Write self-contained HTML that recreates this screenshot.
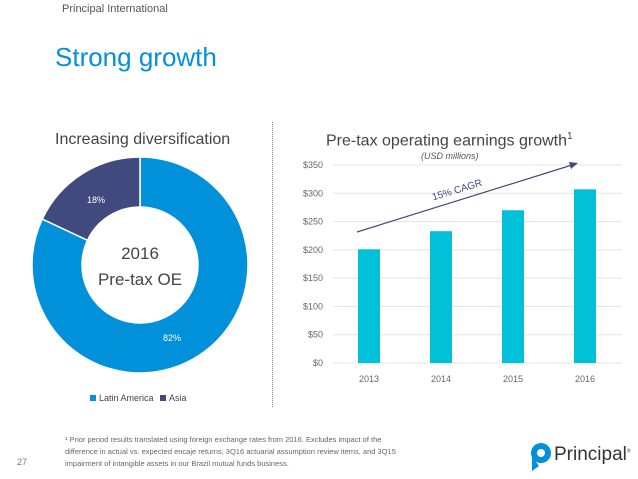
<!DOCTYPE html>
<html><head><meta charset="utf-8"><style>
body{margin:0;width:638px;height:479px;background:#fff;font-family:"Liberation Sans",sans-serif;overflow:hidden;position:relative}
.a{position:absolute;white-space:nowrap}
</style></head><body>
<div class="a" style="left:62px;top:3px;font-size:11px;color:#555">Principal International</div>
<div class="a" style="left:55px;top:42px;font-size:26px;color:#0091da">Strong growth</div>
<div class="a" style="left:55px;top:131px;font-size:16px;color:#444">Increasing diversification</div>
<div class="a" style="left:272px;top:122px;height:285px;border-left:1px dotted #888"></div>
<svg class="a" style="left:0;top:0" width="300" height="420" id="donut"></svg>
<div class="a" style="left:326px;top:131px;font-size:16px;color:#444">Pre-tax operating earnings growth<sup style="font-size:10px">1</sup></div>
<div class="a" style="left:421px;top:151px;font-size:9px;font-style:italic;color:#555">(USD millions)</div>
<svg class="a" style="left:0;top:0" width="638" height="400" id="bars"></svg>
<div class="a" style="left:17px;top:457px;font-size:9px;color:#777">27</div>
<div class="a" style="left:65px;top:434px;font-size:7.5px;line-height:12px;color:#666">¹ Prior period results translated using foreign exchange rates from 2016. Excludes impact of the<br>difference in actual vs. expected encaje returns, 3Q16 actuarial assumption review items, and 3Q15<br>impairment of intangible assets in our Brazil mutual funds business.</div>
<svg class="a" style="left:530px;top:442px" width="22" height="30"><circle cx="11" cy="11" r="10" fill="#0091da"/><path d="M2 14 L2 29 L9 24Z" fill="#0091da"/><circle cx="11" cy="11" r="4" fill="#fff"/></svg>
<div class="a" style="left:554px;top:444px;font-size:19px;color:#333">Principal<sup style="font-size:5px">®</sup></div>
<script>
const segLabels=["Latin America","Asia"];
const segValues=[82,18];
const segColors=["#0091da","#404a7e"];
const years=["2013","2014","2015","2016"];
const earnings=[201,233,270,307];
const ticks=[0,50,100,150,200,250,300,350];
const NS="http://www.w3.org/2000/svg";
function mk(p,t,a){const e=document.createElementNS(NS,t);for(const k in a)e.setAttribute(k,a[k]);p.appendChild(e);return e;}
const d=document.getElementById('donut');
const cx=140,cy=265,R=108,r=58;
const tot=segValues.reduce((a,b)=>a+b,0);
let ang=0;
segValues.forEach((v,i)=>{
 const a0=ang/tot*2*Math.PI,a1=(ang+v)/tot*2*Math.PI;ang+=v;
 const P=(rad,a)=>[cx+rad*Math.sin(a),cy-rad*Math.cos(a)];
 const [x0,y0]=P(R,a0),[x1,y1]=P(R,a1),[x2,y2]=P(r,a1),[x3,y3]=P(r,a0);
 const lg=(a1-a0)>Math.PI?1:0;
 const p=mk(d,'path',{d:`M${x0} ${y0}A${R} ${R} 0 ${lg} 1 ${x1} ${y1}L${x2} ${y2}A${r} ${r} 0 ${lg} 0 ${x3} ${y3}Z`,fill:segColors[i],stroke:'#fff','stroke-width':1.5});
 
 
 const t=mk(d,'text',{x:i==0?172:96,y:i==0?341:203,fill:'#fff','font-size':9,'text-anchor':'middle'});t.textContent=v+'%';
 
 
});
[["2016",cy-6],["Pre-tax OE",cy+20]].forEach(([s,y])=>{const t=mk(d,'text',{x:cx,y:y,'font-size':17,fill:'#444','text-anchor':'middle'});t.textContent=s;});
segLabels.forEach((s,i)=>{const x=i==0?90:160;
 const g=mk(d,'g',{});
 mk(g,'rect',{x:x,y:395,width:6,height:6,fill:segColors[i]});
 const t=mk(g,'text',{x:x+9,y:401,'font-size':9,fill:'#444'});t.textContent=s;});
const b=document.getElementById('bars');
const y0=363,pxPer=198/350,xs=i=>369+i*72;
const Y=v=>y0-v*pxPer;
ticks.forEach(v=>{const l=mk(b,'line',{x1:333,x2:622,y1:Y(v),y2:Y(v),stroke:'#e3e3e3'});
 const t=mk(b,'text',{x:323,y:Y(v)+3,'font-size':9,fill:'#666','text-anchor':'end'});t.textContent='$'+v;});
earnings.forEach((v,i)=>{const rr=mk(b,'rect',{x:xs(i)-11,y:Y(v),width:22,height:v*pxPer,fill:'#00c1d8'});
 
 const t=mk(b,'text',{x:xs(i),y:382,'font-size':9,fill:'#666','text-anchor':'middle'});t.textContent=years[i];});
const ar=mk(b,'line',{x1:357,y1:232,x2:572,y2:165,stroke:'#404a7e','stroke-width':1.2});
const ah=mk(b,'path',{d:'M578 163 L569 162 L571 169Z',fill:'#404a7e'});
const ct=mk(b,'text',{x:458,y:193,'font-size':10,fill:'#404a7e','text-anchor':'middle',transform:'rotate(-17 458 193)'});ct.textContent='15% CAGR';
</script>
</body></html>
